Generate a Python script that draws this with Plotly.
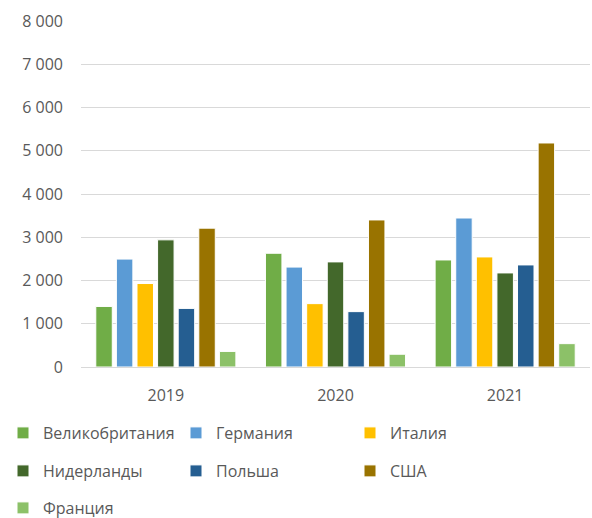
import plotly.graph_objects as go

years = ["2019", "2020", "2021"]
series_names = ["Великобритания", "Германия", "Италия", "Нидерланды", "Польша", "США", "Франция"]
uk = [1400, 2630, 2475]
germany = [2495, 2310, 3445]
italy = [1930, 1465, 2545]
netherlands = [2940, 2430, 2175]
poland = [1355, 1280, 2360]
usa = [3210, 3400, 5180]
france = [360, 295, 540]
values = [uk, germany, italy, netherlands, poland, usa, france]
colors = ["#70AD47", "#5B9BD5", "#FFC000", "#43682B", "#255E91", "#997300", "#8CC168"]

FONT = "Open Sans"
GREY = "#595959"
FS = 16

W, H = 592, 518
ml, mr, mt, mb = 81, 2, 21, 151
pw = W - ml - mr
ph = H - mt - mb

# legend grid (pixel anchors of each entry)
leg_cols = [3, 176, 350]
leg_rows = [433, 471, 508]

fig = go.Figure()
legends = {}
for i, (name, vals, col) in enumerate(zip(series_names, values, colors)):
    key = "legend" if i == 0 else f"legend{i + 1}"
    fig.add_trace(go.Bar(
        name=name, x=years, y=vals, legend=key, showlegend=True,
        marker=dict(color=col, line=dict(color="white", width=1)),
    ))
    r, c = divmod(i, 3)
    legends[key] = dict(
        orientation="h", xanchor="left", yanchor="middle",
        x=(leg_cols[c] - ml) / pw, y=(H - mb - leg_rows[r]) / ph,
        font=dict(family=FONT, size=FS, color=GREY),
        bgcolor="rgba(0,0,0,0)", itemclick=False, itemdoubleclick=False,
        visible=True,
    )

fig.update_layout(
    width=W, height=H,
    showlegend=True,
    margin=dict(l=ml, r=mr, t=mt, b=mb, autoexpand=False),
    plot_bgcolor="white", paper_bgcolor="white",
    separators=". ",
    font=dict(family=FONT, size=FS, color=GREY),
    barmode="group", bargap=0.15, bargroupgap=0.2,
    xaxis=dict(showgrid=False, ticks="", showline=False, ticklabelstandoff=17,
               tickfont=dict(family=FONT, size=FS, color=GREY)),
    yaxis=dict(range=[0, 8000], dtick=1000, tickformat=",d",
               showgrid=True, gridcolor="#D9D9D9", gridwidth=1,
               zeroline=True, zerolinecolor="#D9D9D9", zerolinewidth=1,
               ticks="", showline=False, ticklabelstandoff=17,
               tickfont=dict(family=FONT, size=FS, color=GREY)),
    **legends,
)

fig.write_html("out.html", config={"displayModeBar": False},
               post_script="document.body.style.margin='0';")
